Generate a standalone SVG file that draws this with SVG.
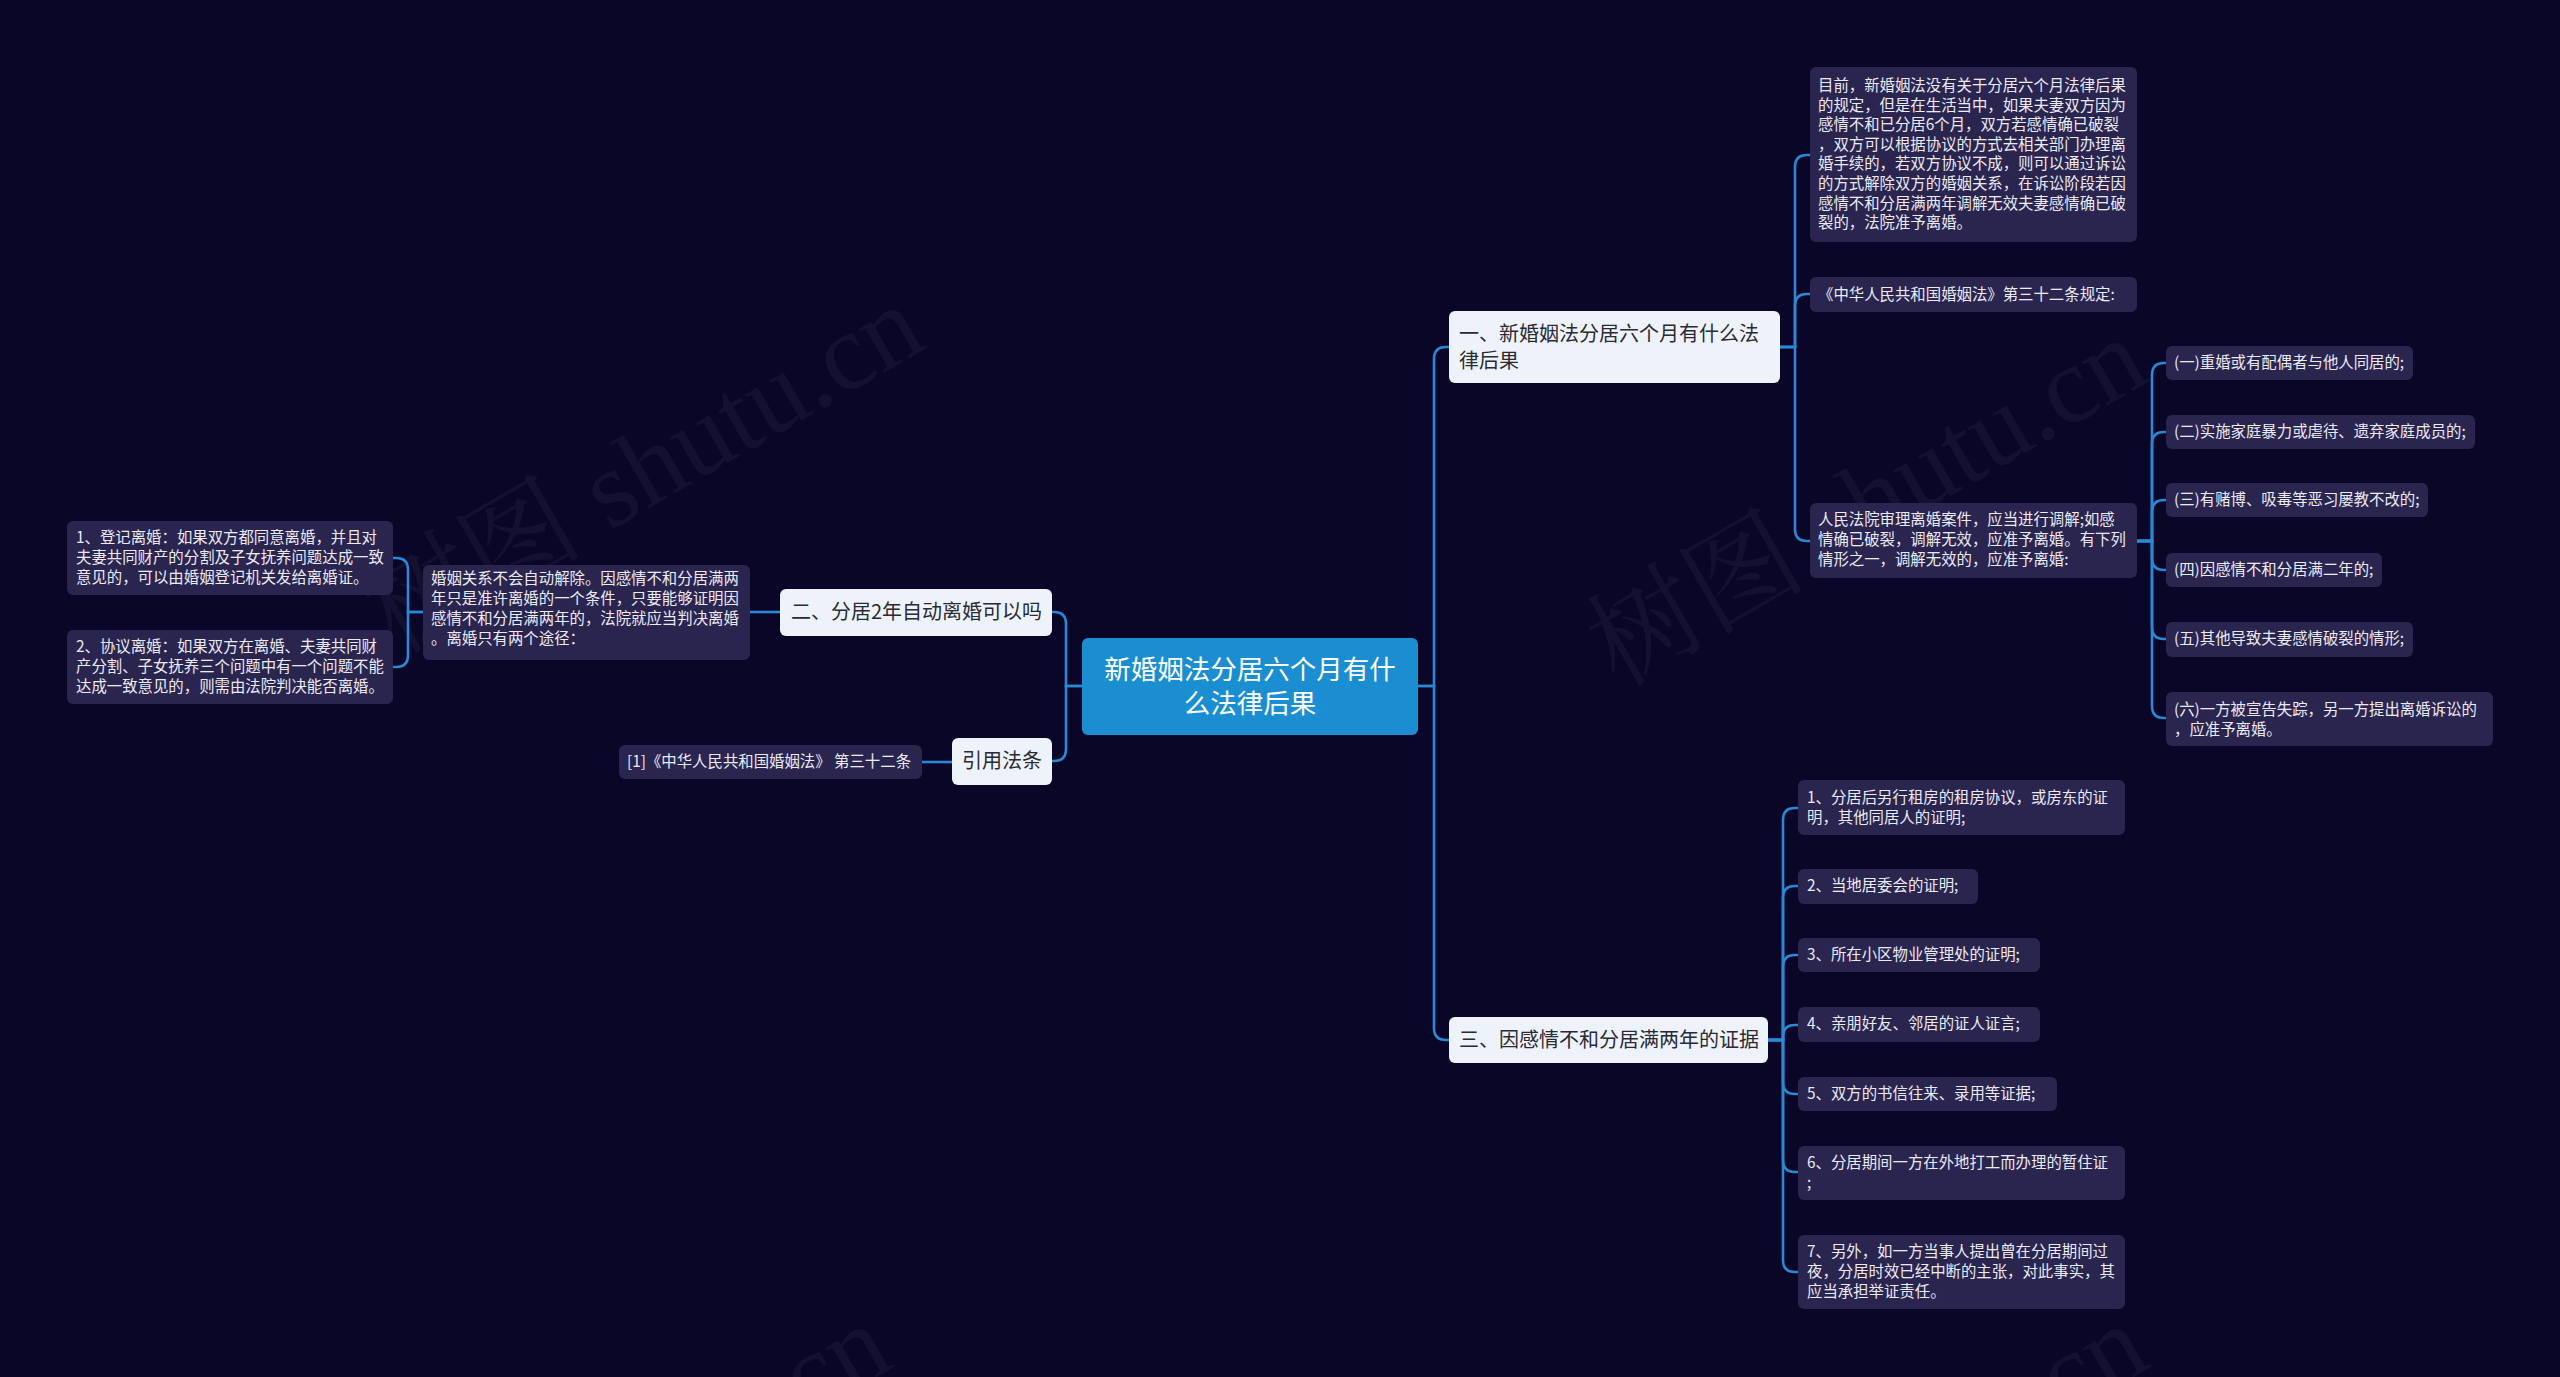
<svg xmlns="http://www.w3.org/2000/svg" width="2560" height="1377" viewBox="0 0 2560 1377">
<style>
.bg{fill:#0a0628}
.leaf{fill:#29254f}
.lt{font-family:"Noto Sans CJK SC","Noto Sans",sans-serif;font-size:15.4px;fill:#eceaf5}
.main{fill:#eef3fb}
.mt{font-family:"Noto Sans CJK SC","Noto Sans",sans-serif;font-size:20px;fill:#2a2a33}
.ct{font-family:"Noto Sans CJK SC","Noto Sans",sans-serif;font-size:26.5px;fill:#ffffff}
.con path{fill:none;stroke:#2a88d4;stroke-width:2.6}
.wm{font-family:"Liberation Serif","Noto Serif CJK SC","Noto Sans CJK SC",serif;font-size:110px;fill:#ffffff;fill-opacity:0.045}
</style>
<rect class="bg" x="0" y="0" width="2560" height="1377"/>
<g id="watermarks">
<text class="wm" transform="translate(395,655) rotate(-30)">树图 shutu.cn</text>
<text class="wm" transform="translate(1618,688) rotate(-30)">树图 shutu.cn</text>
<text class="wm" transform="translate(362,1674) rotate(-30)">树图 shutu.cn</text>
<text class="wm" transform="translate(1619,1674) rotate(-30)">树图 shutu.cn</text>
</g>
<g id="connectors" class="con">
<path d="M1418,686 H1434 V359 Q1434,347 1446,347 H1449"/>
<path d="M1418,686 H1434 V1028 Q1434,1040 1446,1040 H1449"/>
<path d="M1082,686 H1066 V624 Q1066,612 1054,612 H1052"/>
<path d="M1082,686 H1066 V749 Q1066,761 1054,761 H1052"/>
<path d="M780,612 H750"/>
<path d="M952,762 H922"/>
<path d="M423,612 H408 V570 Q408,558 396,558 H393"/>
<path d="M423,612 H408 V655 Q408,667 396,667 H393"/>
<path d="M1780,347 H1795 V167 Q1795,155 1807,155 H1810"/>
<path d="M1780,347 H1795 V306 Q1795,294 1807,294 H1810"/>
<path d="M1780,347 H1795 V529 Q1795,541 1807,541 H1810"/>
<path d="M2137,541 H2152 V375 Q2152,363 2164,363 H2166"/>
<path d="M2137,541 H2152 V444 Q2152,432 2164,432 H2166"/>
<path d="M2137,541 H2152 V512 Q2152,500 2164,500 H2166"/>
<path d="M2137,541 H2152 V558 Q2152,570 2164,570 H2166"/>
<path d="M2137,541 H2152 V627 Q2152,639 2164,639 H2166"/>
<path d="M2137,541 H2152 V706 Q2152,718 2164,718 H2166"/>
<path d="M1768,1040 H1783 V820 Q1783,808 1795,808 H1798"/>
<path d="M1768,1040 H1783 V898 Q1783,886 1795,886 H1798"/>
<path d="M1768,1040 H1783 V967 Q1783,955 1795,955 H1798"/>
<path d="M1768,1040 H1783 V1037 Q1783,1025 1795,1025 H1798"/>
<path d="M1768,1040 H1783 V1082 Q1783,1094 1795,1094 H1798"/>
<path d="M1768,1040 H1783 V1160 Q1783,1172 1795,1172 H1798"/>
<path d="M1768,1040 H1783 V1260 Q1783,1272 1795,1272 H1798"/>
</g>
<g id="center">
<rect x="1082" y="638" width="336" height="97" rx="6" fill="#1b8ed2"/>
<text class="ct" x="1250" y="679" text-anchor="middle">新婚姻法分居六个月有什</text>
<text class="ct" x="1250" y="713" text-anchor="middle">么法律后果</text>
</g>
<g id="n1">
<rect class="main" x="1449" y="311" width="331" height="72" rx="6"/>
<text class="mt" x="1459" y="341">一、新婚姻法分居六个月有什么法</text>
<text class="mt" x="1459" y="368">律后果</text>
</g>
<g id="n1a">
<rect class="leaf" x="1810" y="67" width="327" height="175" rx="6"/>
<text class="lt" x="1818" y="91">目前，新婚姻法没有关于分居六个月法律后果</text>
<text class="lt" x="1818" y="110.6">的规定，但是在生活当中，如果夫妻双方因为</text>
<text class="lt" x="1818" y="130.2">感情不和已分居6个月，双方若感情确已破裂</text>
<text class="lt" x="1818" y="149.8">，双方可以根据协议的方式去相关部门办理离</text>
<text class="lt" x="1818" y="169.4">婚手续的，若双方协议不成，则可以通过诉讼</text>
<text class="lt" x="1818" y="189">的方式解除双方的婚姻关系，在诉讼阶段若因</text>
<text class="lt" x="1818" y="208.6">感情不和分居满两年调解无效夫妻感情确已破</text>
<text class="lt" x="1818" y="228.2">裂的，法院准予离婚。</text>
</g>
<g id="n1b">
<rect class="leaf" x="1810" y="277" width="327" height="35" rx="6"/>
<text class="lt" x="1818" y="300">《中华人民共和国婚姻法》第三十二条规定:</text>
</g>
<g id="n1c">
<rect class="leaf" x="1810" y="503" width="327" height="75" rx="6"/>
<text class="lt" x="1818" y="525">人民法院审理离婚案件，应当进行调解;如感</text>
<text class="lt" x="1818" y="545">情确已破裂，调解无效，应准予离婚。有下列</text>
<text class="lt" x="1818" y="565">情形之一，调解无效的，应准予离婚:</text>
</g>
<g id="s1">
<rect class="leaf" x="2166" y="346" width="247" height="34" rx="6"/>
<text class="lt" x="2174" y="368">(一)重婚或有配偶者与他人同居的;</text>
</g>
<g id="s2">
<rect class="leaf" x="2166" y="415" width="309" height="34" rx="6"/>
<text class="lt" x="2174" y="437">(二)实施家庭暴力或虐待、遗弃家庭成员的;</text>
</g>
<g id="s3">
<rect class="leaf" x="2166" y="483" width="262" height="34" rx="6"/>
<text class="lt" x="2174" y="505">(三)有赌博、吸毒等恶习屡教不改的;</text>
</g>
<g id="s4">
<rect class="leaf" x="2166" y="553" width="216" height="34" rx="6"/>
<text class="lt" x="2174" y="575">(四)因感情不和分居满二年的;</text>
</g>
<g id="s5">
<rect class="leaf" x="2166" y="622" width="247" height="35" rx="6"/>
<text class="lt" x="2174" y="644">(五)其他导致夫妻感情破裂的情形;</text>
</g>
<g id="s6">
<rect class="leaf" x="2166" y="692" width="327" height="54" rx="6"/>
<text class="lt" x="2174" y="715">(六)一方被宣告失踪，另一方提出离婚诉讼的</text>
<text class="lt" x="2174" y="735">，应准予离婚。</text>
</g>
<g id="n3">
<rect class="main" x="1449" y="1017" width="319" height="46" rx="6"/>
<text class="mt" x="1459" y="1047">三、因感情不和分居满两年的证据</text>
</g>
<g id="e1">
<rect class="leaf" x="1798" y="780" width="327" height="55" rx="6"/>
<text class="lt" x="1807" y="803">1、分居后另行租房的租房协议，或房东的证</text>
<text class="lt" x="1807" y="823">明，其他同居人的证明;</text>
</g>
<g id="e2">
<rect class="leaf" x="1798" y="869" width="180" height="35" rx="6"/>
<text class="lt" x="1807" y="891">2、当地居委会的证明;</text>
</g>
<g id="e3">
<rect class="leaf" x="1798" y="938" width="242" height="34" rx="6"/>
<text class="lt" x="1807" y="960">3、所在小区物业管理处的证明;</text>
</g>
<g id="e4">
<rect class="leaf" x="1798" y="1007" width="242" height="35" rx="6"/>
<text class="lt" x="1807" y="1029">4、亲朋好友、邻居的证人证言;</text>
</g>
<g id="e5">
<rect class="leaf" x="1798" y="1077" width="259" height="34" rx="6"/>
<text class="lt" x="1807" y="1099">5、双方的书信往来、录用等证据;</text>
</g>
<g id="e6">
<rect class="leaf" x="1798" y="1146" width="327" height="54" rx="6"/>
<text class="lt" x="1807" y="1168">6、分居期间一方在外地打工而办理的暂住证</text>
<text class="lt" x="1807" y="1188">;</text>
</g>
<g id="e7">
<rect class="leaf" x="1798" y="1235" width="327" height="74" rx="6"/>
<text class="lt" x="1807" y="1257">7、另外，如一方当事人提出曾在分居期间过</text>
<text class="lt" x="1807" y="1277">夜，分居时效已经中断的主张，对此事实，其</text>
<text class="lt" x="1807" y="1297">应当承担举证责任。</text>
</g>
<g id="n2">
<rect class="main" x="780" y="589" width="272" height="47" rx="6"/>
<text class="mt" x="791" y="619">二、分居2年自动离婚可以吗</text>
</g>
<g id="n2a">
<rect class="leaf" x="423" y="565" width="327" height="95" rx="6"/>
<text class="lt" x="431" y="584">婚姻关系不会自动解除。因感情不和分居满两</text>
<text class="lt" x="431" y="604">年只是准许离婚的一个条件，只要能够证明因</text>
<text class="lt" x="431" y="624">感情不和分居满两年的，法院就应当判决离婚</text>
<text class="lt" x="431" y="644">。离婚只有两个途径：</text>
</g>
<g id="n2a1">
<rect class="leaf" x="67" y="521" width="326" height="74" rx="6"/>
<text class="lt" x="76" y="543">1、登记离婚：如果双方都同意离婚，并且对</text>
<text class="lt" x="76" y="563">夫妻共同财产的分割及子女抚养问题达成一致</text>
<text class="lt" x="76" y="583">意见的，可以由婚姻登记机关发给离婚证。</text>
</g>
<g id="n2a2">
<rect class="leaf" x="67" y="630" width="326" height="74" rx="6"/>
<text class="lt" x="76" y="652">2、协议离婚：如果双方在离婚、夫妻共同财</text>
<text class="lt" x="76" y="672">产分割、子女抚养三个问题中有一个问题不能</text>
<text class="lt" x="76" y="692">达成一致意见的，则需由法院判决能否离婚。</text>
</g>
<g id="n4">
<rect class="main" x="952" y="738" width="100" height="47" rx="6"/>
<text class="mt" x="1002" y="768" text-anchor="middle">引用法条</text>
</g>
<g id="n4a">
<rect class="leaf" x="619" y="745" width="303" height="34" rx="6"/>
<text class="lt" x="627" y="767">[1]《中华人民共和国婚姻法》 第三十二条</text>
</g>
</svg>
